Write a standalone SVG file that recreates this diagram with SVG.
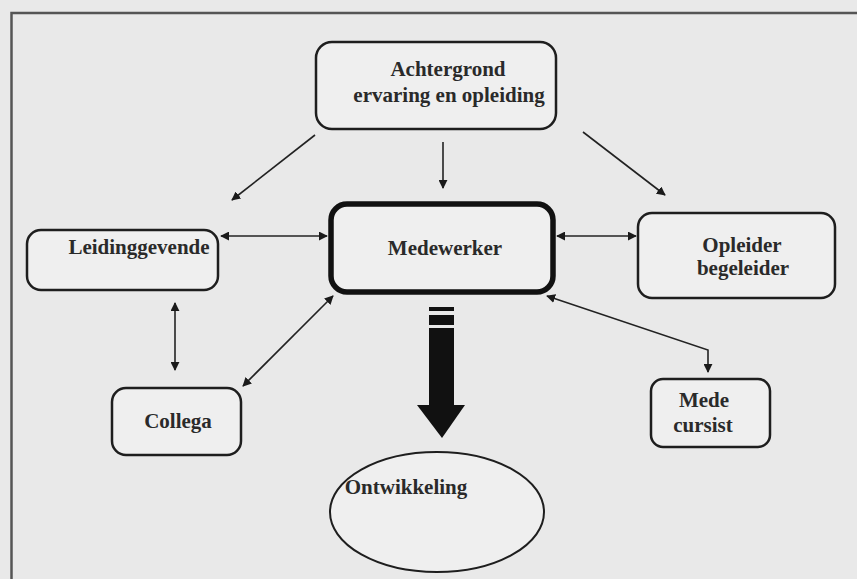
<svg xmlns="http://www.w3.org/2000/svg" width="857" height="579" viewBox="0 0 857 579">
<defs>
<style>
.box{fill:#efefef;stroke:#1e1e1e;stroke-width:2.5}
.thick{fill:#efefef;stroke:#111;stroke-width:5.5}
.lbl{font-family:"Liberation Serif","Times New Roman",serif;font-weight:bold;font-size:21px;fill:#2a2a2a;text-anchor:middle}
.con{stroke:#222;stroke-width:1.6;fill:none}
</style>
<marker id="ah" viewBox="0 0 10 10" refX="9" refY="5" markerWidth="9" markerHeight="9" markerUnits="userSpaceOnUse" orient="auto-start-reverse">
<path d="M0,0 L10,5 L0,10 z" fill="#1a1a1a"/>
</marker>
</defs>
<rect x="0" y="0" width="857" height="579" fill="#e9e9e9"/>
<path d="M11.5,579 V13 H857" fill="none" stroke="#555" stroke-width="2.5"/>

<g id="connectors">
<line class="con" x1="315" y1="135" x2="232" y2="200" marker-end="url(#ah)"/>
<line class="con" x1="443" y1="142" x2="443" y2="188" marker-end="url(#ah)"/>
<line class="con" x1="583" y1="132" x2="665" y2="195" marker-end="url(#ah)"/>
<line class="con" x1="221" y1="236" x2="327" y2="236" marker-start="url(#ah)" marker-end="url(#ah)"/>
<line class="con" x1="557" y1="236" x2="636" y2="236" marker-start="url(#ah)" marker-end="url(#ah)"/>
<line class="con" x1="175" y1="303" x2="175" y2="370" marker-start="url(#ah)" marker-end="url(#ah)"/>
<line class="con" x1="243" y1="386" x2="333" y2="296" marker-start="url(#ah)" marker-end="url(#ah)"/>
<polyline class="con" points="547,296 708,350 708,372" marker-start="url(#ah)" marker-end="url(#ah)"/>
<g id="bigarrow" fill="#111">
<rect x="429" y="307" width="25" height="4"/>
<rect x="429" y="315" width="25" height="10"/>
<rect x="429" y="328" width="25" height="77"/>
<polygon points="417,405 465,405 442,438"/>
</g>
</g>

<g id="achtergrond">
<rect class="box" x="316" y="42" width="240" height="87" rx="16"/>
<text class="lbl" x="448" y="76">Achtergrond</text>
<text class="lbl" x="449" y="102">ervaring en opleiding</text>
</g>
<g id="medewerker">
<rect class="thick" x="331" y="204" width="222" height="88" rx="16"/>
<text class="lbl" x="445" y="255">Medewerker</text>
</g>
<g id="leidinggevende">
<rect class="box" x="27" y="230" width="191" height="60" rx="14"/>
<text class="lbl" x="139" y="254">Leidinggevende</text>
</g>
<g id="opleider">
<rect class="box" x="638" y="213" width="197" height="85" rx="14"/>
<text class="lbl" x="742" y="252">Opleider</text>
<text class="lbl" x="743" y="275">begeleider</text>
</g>
<g id="collega">
<rect class="box" x="112" y="388" width="129" height="67" rx="14"/>
<text class="lbl" x="178" y="428">Collega</text>
</g>
<g id="medecursist">
<rect class="box" x="651" y="379" width="119" height="68" rx="12"/>
<text class="lbl" x="704" y="407">Mede</text>
<text class="lbl" x="703" y="432">cursist</text>
</g>
<g id="ontwikkeling">
<ellipse cx="437" cy="512" rx="107" ry="60" fill="#efefef" stroke="#1e1e1e" stroke-width="2"/>
<text class="lbl" x="406" y="494">Ontwikkeling</text>
</g>
</svg>
